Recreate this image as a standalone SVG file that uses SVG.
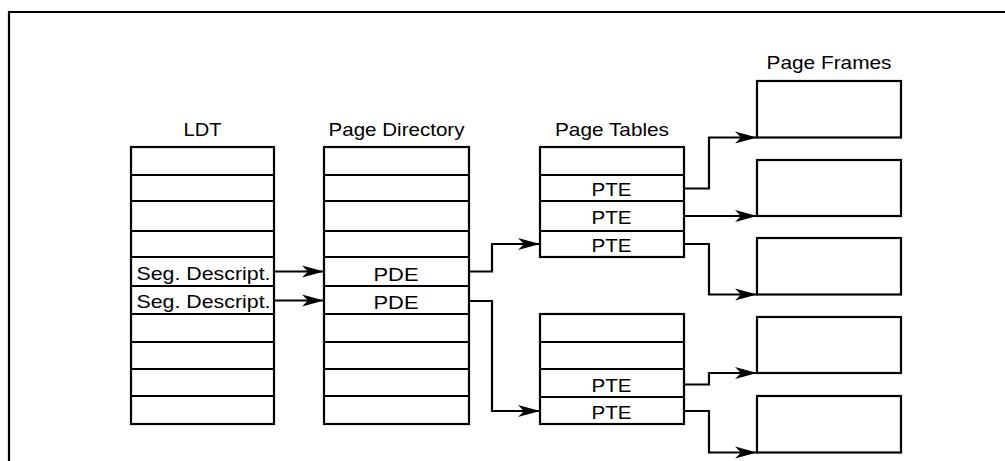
<svg xmlns="http://www.w3.org/2000/svg" width="1005" height="461" viewBox="0 0 1005 461">
<style>
.box{fill:#fff;stroke:#000;stroke-width:2.2}
.ln{fill:none;stroke:#000;stroke-width:2.2}
.t{font-family:"Liberation Sans",Arial,Helvetica,sans-serif;font-size:19px;fill:#000;text-anchor:middle}
.c{fill:none;stroke:#000;stroke-width:2.2;marker-end:url(#ah)}
</style>
<defs>
<marker id="ah" markerUnits="userSpaceOnUse" markerWidth="24" markerHeight="14" viewBox="0 -7 24 14" refX="22" refY="0" orient="auto">
<path d="M0,-6 L22,0 L0,6 L6,0 Z" fill="#000"/>
</marker>
</defs>
<rect width="1005" height="461" fill="#fff"/>
<path id="border" class="ln" d="M9,461 V12 H1005"/>

<g id="ldt">
<text class="t" x="202.5" y="135.5" textLength="38" lengthAdjust="spacingAndGlyphs">LDT</text>
<rect class="box" x="131" y="147" width="143" height="277"/>
<path class="ln" d="M131,175H274M131,201H274M131,231H274M131,257H274M131,286H274M131,314H274M131,342H274M131,369H274M131,396H274"/>
<text class="t" x="203.5" y="279.5" textLength="134" lengthAdjust="spacingAndGlyphs">Seg. Descript.</text>
<text class="t" x="203.5" y="307.5" textLength="134" lengthAdjust="spacingAndGlyphs">Seg. Descript.</text>
</g>

<g id="page-directory">
<text class="t" x="396.5" y="135.5" textLength="136" lengthAdjust="spacingAndGlyphs">Page Directory</text>
<rect class="box" x="324" y="147" width="145" height="277"/>
<path class="ln" d="M324,175H469M324,201H469M324,231H469M324,257H469M324,286H469M324,314H469M324,342H469M324,369H469M324,396H469"/>
<text class="t" x="396" y="280.5" textLength="45" lengthAdjust="spacingAndGlyphs">PDE</text>
<text class="t" x="396" y="309" textLength="45" lengthAdjust="spacingAndGlyphs">PDE</text>
</g>

<g id="page-table-1">
<text class="t" x="612" y="135.5" textLength="114" lengthAdjust="spacingAndGlyphs">Page Tables</text>
<rect class="box" x="540" y="147" width="144" height="110"/>
<path class="ln" d="M540,175H684M540,201H684M540,231H684"/>
<text class="t" x="611.5" y="195.5" textLength="40" lengthAdjust="spacingAndGlyphs">PTE</text>
<text class="t" x="611.5" y="223.5" textLength="40" lengthAdjust="spacingAndGlyphs">PTE</text>
<text class="t" x="611.5" y="251.5" textLength="40" lengthAdjust="spacingAndGlyphs">PTE</text>
</g>

<g id="page-table-2">
<rect class="box" x="540" y="314" width="144" height="110"/>
<path class="ln" d="M540,342H684M540,369H684M540,397H684"/>
<text class="t" x="611.5" y="391.5" textLength="40" lengthAdjust="spacingAndGlyphs">PTE</text>
<text class="t" x="611.5" y="419" textLength="40" lengthAdjust="spacingAndGlyphs">PTE</text>
</g>

<g id="page-frames">
<text class="t" x="829" y="69" textLength="125" lengthAdjust="spacingAndGlyphs">Page Frames</text>
<rect id="frame-1" class="box" x="757" y="81" width="144" height="56.5"/>
<rect id="frame-2" class="box" x="757" y="160" width="144" height="56"/>
<rect id="frame-3" class="box" x="757" y="238" width="144" height="56.5"/>
<rect id="frame-4" class="box" x="757" y="317" width="144" height="56"/>
<rect id="frame-5" class="box" x="757" y="396" width="144" height="56.5"/>
</g>

<g id="connectors">
<path class="c" d="M274,271.5H324"/>
<path class="c" d="M274,300.5H324"/>
<path class="c" d="M469,271.5H492V244H540"/>
<path class="c" d="M469,301H492V411H540"/>
<path class="c" d="M684,188.5H709V137.5H757"/>
<path class="c" d="M684,216H757"/>
<path class="c" d="M684,244H709V294.5H757"/>
<path class="c" d="M684,384.5H709V373H757"/>
<path class="c" d="M684,411H709V452.5H757"/>
</g>
</svg>
